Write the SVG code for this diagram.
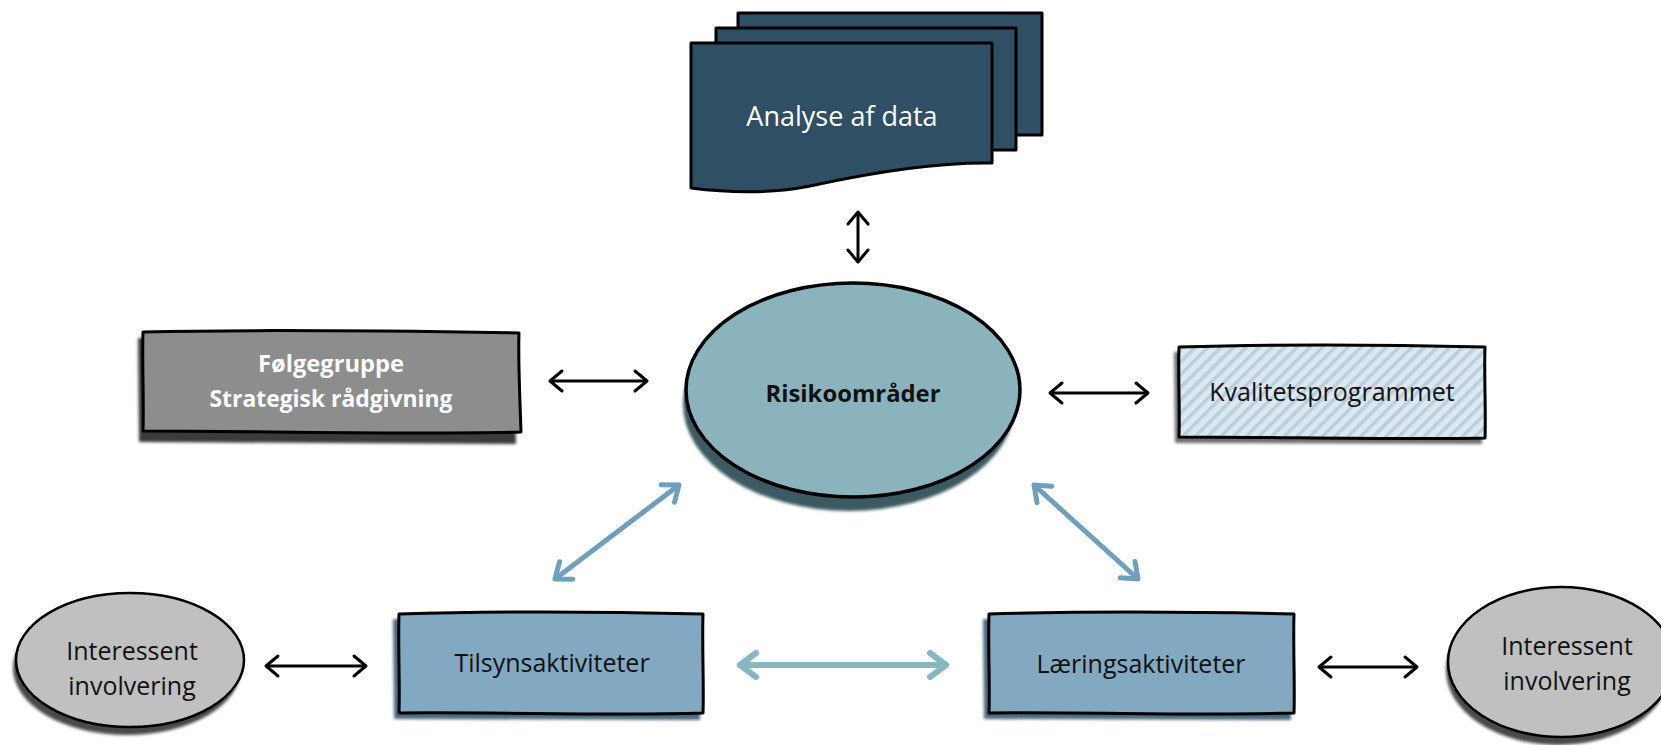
<svg xmlns="http://www.w3.org/2000/svg" width="1661" height="745" viewBox="0 0 1661 745">
<style>
.t{font-family:"Open Sans","Noto Sans","DejaVu Sans",sans-serif;text-anchor:middle}
.w{fill:#fff}
.k{fill:#111}
.b{font-weight:bold}
.edge{stroke:#000;stroke-width:3;stroke-linejoin:round}
.blk{stroke:#000;stroke-width:3;fill:none}
.blu{stroke:#6F9FBC;stroke-width:5;fill:none}
.tel{stroke:#87B6C1;stroke-width:6;fill:none}
</style>
<defs>
<pattern id="hatch" patternUnits="userSpaceOnUse" width="9" height="9" patternTransform="rotate(45)">
<rect width="9" height="9" fill="#DDE7EF"/><rect width="3.5" height="9" fill="#BACFDD"/>
</pattern>
<filter id="soft" x="-10%" y="-10%" width="120%" height="130%"><feGaussianBlur stdDeviation="1.5"/></filter>
<marker id="mk" viewBox="-20 -15 25 30" refX="0" refY="0" markerWidth="25" markerHeight="30" markerUnits="userSpaceOnUse" orient="auto-start-reverse" overflow="visible">
<path d="M-12,-10 L0,0 L-12,10" fill="none" stroke="#000" stroke-width="3" stroke-linecap="round" stroke-linejoin="round"/>
</marker>
<marker id="mb" viewBox="-20 -15 25 30" refX="0" refY="0" markerWidth="25" markerHeight="30" markerUnits="userSpaceOnUse" orient="auto-start-reverse" overflow="visible">
<path d="M-14,-11 L0,0 L-14,11" fill="none" stroke="#6F9FBC" stroke-width="5" stroke-linecap="round" stroke-linejoin="round"/>
</marker>
<marker id="mt" viewBox="-20 -15 25 30" refX="0" refY="0" markerWidth="25" markerHeight="30" markerUnits="userSpaceOnUse" orient="auto-start-reverse" overflow="visible">
<path d="M-16,-12 L0,0 L-16,12" fill="none" stroke="#87B6C1" stroke-width="6" stroke-linecap="round" stroke-linejoin="round"/>
</marker>
</defs>
<rect width="1661" height="745" fill="#fff"/>

<g id="analyse">
<rect x="738" y="13" width="304" height="122" fill="#2F5064" class="edge"/>
<rect x="716" y="28" width="300" height="122" fill="#2F5064" class="edge"/>
<path d="M691,43 L992,43 L992,163 C930,162 860,175 810,186 C770,194 730,193 691,188 Z" fill="#2F5064" class="edge"/>
<text class="t w" x="842" y="126" font-size="27">Analyse af data</text>
</g>

<g id="folgegruppe">
<path d="M138,338 L514,337 L516,444 L139,442 Z" fill="#3a3a3a" filter="url(#soft)"/>
<path d="M143,332 C260,329 400,331 519,333 C518,360 520,400 521,432 C400,435 260,431 143,431 C144,400 142,360 143,332 Z" fill="#8D8D8D" class="edge"/>
<text class="t w b" x="331" y="372" font-size="24" textLength="146" lengthAdjust="spacingAndGlyphs">Følgegruppe</text>
<text class="t w b" x="331" y="407" font-size="24" textLength="243" lengthAdjust="spacingAndGlyphs">Strategisk rådgivning</text>
</g>

<g id="risiko">
<ellipse cx="849" cy="404" rx="166" ry="107" fill="#3D5A63" filter="url(#soft)"/>
<ellipse cx="853" cy="390" rx="167" ry="107" fill="#8BB3BD" stroke="#000" stroke-width="3.5"/>
<text class="t k b" x="853" y="402" font-size="24" textLength="175" lengthAdjust="spacingAndGlyphs">Risikoområder</text>
</g>

<g id="kvalitet">
<path d="M1174,352 L1481,351 L1482,444 L1175,443 Z" fill="#6f6f6f" filter="url(#soft)"/>
<path d="M1179,347 C1280,344 1400,345 1485,347 C1484,375 1486,410 1485,438 C1400,440 1280,437 1179,437 C1180,410 1178,375 1179,347 Z" fill="url(#hatch)" class="edge"/>
<text class="t k" x="1332" y="401" font-size="25">Kvalitetsprogrammet</text>
</g>

<g id="tilsyn">
<path d="M393,619 L699,618 L700,720 L394,719 Z" fill="#4C6A7E" filter="url(#soft)"/>
<path d="M399,614 C500,611 620,612 703,614 C702,645 704,685 703,713 C620,716 500,712 399,713 C400,685 398,645 399,614 Z" fill="#82A8C2" class="edge"/>
<text class="t k" x="552" y="672" font-size="25">Tilsynsaktiviteter</text>
</g>

<g id="laering">
<path d="M983,619 L1290,618 L1291,720 L984,719 Z" fill="#4C6A7E" filter="url(#soft)"/>
<path d="M989,614 C1090,611 1210,612 1294,614 C1293,645 1295,685 1294,713 C1210,716 1090,712 989,713 C990,685 988,645 989,614 Z" fill="#82A8C2" class="edge"/>
<text class="t k" x="1141" y="673" font-size="25">Læringsaktiviteter</text>
</g>

<g id="interessent-venstre">
<ellipse cx="127" cy="668" rx="114" ry="67" fill="#4a4a4a" filter="url(#soft)"/>
<ellipse cx="130" cy="660" rx="114" ry="67" fill="#C0C0C0" stroke="#000" stroke-width="2.5"/>
<text class="t k" x="132" y="660" font-size="25">Interessent</text>
<text class="t k" x="132" y="695" font-size="25">involvering</text>
</g>

<g id="interessent-hoejre">
<ellipse cx="1558" cy="670" rx="112" ry="75" fill="#4a4a4a" filter="url(#soft)"/>
<ellipse cx="1561" cy="662" rx="113" ry="75" fill="#C0C0C0" stroke="#000" stroke-width="2.5"/>
<text class="t k" x="1567" y="655" font-size="25">Interessent</text>
<text class="t k" x="1567" y="690" font-size="25">involvering</text>
</g>

<g id="connectors">
<line x1="858" y1="212" x2="858" y2="262" class="blk" marker-start="url(#mk)" marker-end="url(#mk)"/>
<line x1="550" y1="381" x2="647" y2="381" class="blk" marker-start="url(#mk)" marker-end="url(#mk)"/>
<line x1="1050" y1="393" x2="1148" y2="393" class="blk" marker-start="url(#mk)" marker-end="url(#mk)"/>
<line x1="266" y1="666" x2="366" y2="666" class="blk" marker-start="url(#mk)" marker-end="url(#mk)"/>
<line x1="1319" y1="667" x2="1417" y2="667" class="blk" marker-start="url(#mk)" marker-end="url(#mk)"/>
<line x1="555" y1="579" x2="679" y2="485" class="blu" marker-start="url(#mb)" marker-end="url(#mb)"/>
<line x1="1034" y1="485" x2="1138" y2="579" class="blu" marker-start="url(#mb)" marker-end="url(#mb)"/>
<line x1="740" y1="665" x2="946" y2="665" class="tel" marker-start="url(#mt)" marker-end="url(#mt)"/>
</g>
</svg>
